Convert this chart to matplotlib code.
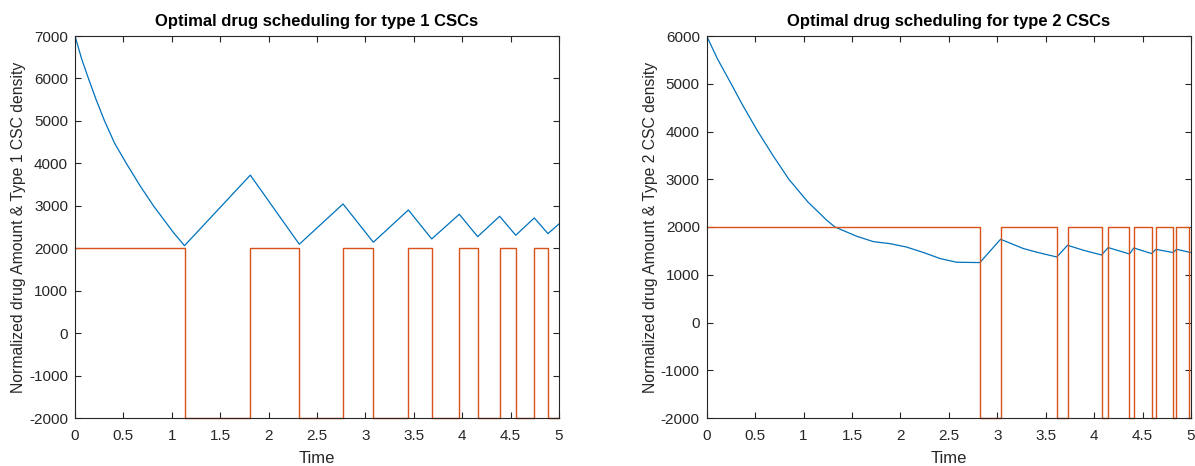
import matplotlib
matplotlib.use("Agg")
import matplotlib.pyplot as plt

plt.rcParams['font.family'] = ['Liberation Sans', 'DejaVu Sans']

# ---------------- data: type 1 ----------------
t1_density = [0, 0.07, 0.145, 0.22, 0.305, 0.41, 0.53, 0.672, 0.81, 1.017, 1.131,
              1.811, 2.317, 2.769, 3.082, 3.444, 3.685, 3.970, 4.160, 4.387,
              4.553, 4.745, 4.886, 5.0]
y1_density = [7000, 6450, 5960, 5490, 5000, 4470, 4000, 3472, 3000, 2370, 2060,
              3722, 2094, 3043, 2141, 2901, 2219, 2800, 2273, 2753,
              2306, 2713, 2345, 2572]
t1_drug = [0, 1.133, 1.811, 2.317, 2.769, 3.082, 3.444, 3.685, 3.970,
           4.160, 4.387, 4.553, 4.745, 4.886, 5.0]
y1_drug = [2000, -2000, 2000, -2000, 2000, -2000, 2000, -2000, 2000,
           -2000, 2000, -2000, 2000, -2000, -2000]

# ---------------- data: type 2 ----------------
t2_density = [0, 0.11, 0.252, 0.372, 0.528, 0.683, 0.848, 1.045, 1.24, 1.324,
              1.55, 1.72, 1.89, 2.06, 2.24, 2.41, 2.58, 2.82, 3.034, 3.27,
              3.44, 3.615, 3.725, 3.89, 4.076, 4.145, 4.365, 4.41, 4.595,
              4.637, 4.815, 4.85, 5.0]
y2_density = [6000, 5525, 5000, 4548, 4000, 3501, 3000, 2524, 2140, 2000,
              1805, 1694, 1652, 1582, 1464, 1339, 1262, 1255, 1743, 1548,
              1456, 1372, 1617, 1513, 1414, 1569, 1435, 1561, 1443,
              1533, 1464, 1533, 1464]
t2_drug = [0, 2.820, 3.034, 3.615, 3.725, 4.076, 4.145, 4.365, 4.410,
           4.595, 4.637, 4.815, 4.850, 4.980, 5.0]
y2_drug = [2000, -2000, 2000, -2000, 2000, -2000, 2000, -2000, 2000,
           -2000, 2000, -2000, 2000, -2000, -2000]

titles = ["Optimal drug scheduling for type 1 CSCs",
          "Optimal drug scheduling for type 2 CSCs"]
ylabels = ["Normalized drug Amount & Type 1 CSC density",
           "Normalized drug Amount & Type 2 CSC density"]
xticks = [0, 0.5, 1, 1.5, 2, 2.5, 3, 3.5, 4, 4.5, 5]
xticklabels = ["0", "0.5", "1", "1.5", "2", "2.5", "3", "3.5", "4", "4.5", "5"]
yticks1 = list(range(-2000, 7001, 1000))
yticks2 = list(range(-2000, 6001, 1000))

BLUE = "#0072BD"
ORANGE = "#D95319"
AXC = "#262626"

fig = plt.figure(figsize=(11.95, 4.66), dpi=100)
ax1 = fig.add_axes([75/1195, 48/466, 484/1195, 382/466])
ax2 = fig.add_axes([706.7/1195, 48/466, 484.3/1195, 382/466])

datasets = [
    (ax1, t1_density, y1_density, t1_drug, y1_drug, yticks1, 7000),
    (ax2, t2_density, y2_density, t2_drug, y2_drug, yticks2, 6000),
]

for i, (ax, td, yd, tu, yu, yt, ymax) in enumerate(datasets):
    ax.plot(td, yd, color=BLUE, lw=0.9)
    ax.step(tu, yu, where='post', color=ORANGE, lw=1.0, clip_on=False)
    ax.set_xlim(0, 5)
    ax.set_ylim(-2000, ymax)
    ax.set_xticks(xticks)
    ax.set_xticklabels(xticklabels)
    ax.set_yticks(yt)
    ax.set_yticklabels([str(v) for v in yt])
    ax.tick_params(direction='in', top=True, right=True, length=4, width=0.8,
                   colors=AXC, labelsize=11, labelcolor=AXC)
    ax.tick_params(axis='x', pad=8)
    ax.tick_params(axis='y', pad=5)
    for s in ax.spines.values():
        s.set_color(AXC)
        s.set_linewidth(0.8)
    ax.set_title(titles[i], fontsize=12, fontweight='bold', color='black', pad=7)
    ax.set_xlabel("Time", fontsize=12, color=AXC, labelpad=6)
    ax.set_ylabel(ylabels[i], fontsize=11.3, color=AXC, labelpad=2)

fig.savefig("out.png", dpi=100)
